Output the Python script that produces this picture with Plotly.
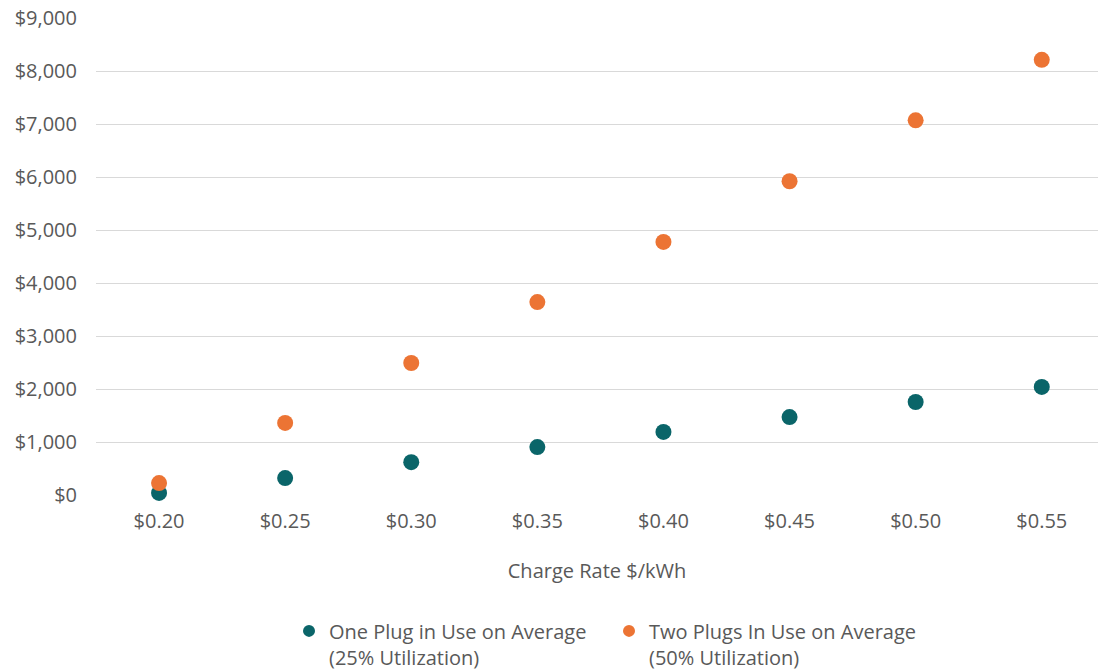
import plotly.graph_objects as go

# Charge rate categories ($/kWh)
rates = ["$0.20", "$0.25", "$0.30", "$0.35", "$0.40", "$0.45", "$0.50", "$0.55"]

# Annual revenue per charger ($)
one_plug = [40, 320, 620, 905, 1190, 1470, 1755, 2040]
two_plugs = [225, 1360, 2490, 3640, 4775, 5920, 7070, 8210]

y_ticks = [0, 1000, 2000, 3000, 4000, 5000, 6000, 7000, 8000, 9000]
y_labels = ["$0", "$1,000", "$2,000", "$3,000", "$4,000", "$5,000",
            "$6,000", "$7,000", "$8,000", "$9,000"]

TEAL = "#0A6569"
ORANGE = "#EC7434"
TEXT = "#595959"
FONT = "Open Sans"
SIZE = 20

x_pos = list(range(len(rates)))

fig = go.Figure()
fig.add_trace(go.Scatter(
    x=x_pos, y=one_plug, mode="markers",
    name="One Plug in Use on Average<br>(25% Utilization)",
    marker=dict(color=TEAL, size=16),
    cliponaxis=False,
))
fig.add_trace(go.Scatter(
    x=x_pos, y=two_plugs, mode="markers",
    name="Two Plugs In Use on Average<br>(50% Utilization)",
    marker=dict(color=ORANGE, size=16),
    cliponaxis=False,
))

fig.update_layout(
    width=1098, height=670,
    margin=dict(l=96, r=0, t=18, b=175),
    paper_bgcolor="white", plot_bgcolor="white",
    font=dict(family=FONT, size=SIZE, color=TEXT),
    xaxis=dict(
        tickmode="array", tickvals=x_pos, ticktext=rates,
        range=[-0.5, 7.446], showgrid=False, zeroline=False,
        showline=False, ticks="", ticklabelstandoff=12,
        title=dict(text="Charge Rate $/kWh", standoff=30,
                   font=dict(size=SIZE, color=TEXT)),
    ),
    yaxis=dict(
        tickmode="array", tickvals=y_ticks, ticktext=y_labels,
        range=[0, 9000], showgrid=True, gridcolor="#D9D9D9", gridwidth=1,
        zeroline=False, showline=False, ticks="", ticklabelstandoff=18,
        automargin=False,
    ),
    legend=dict(
        orientation="h", x=0.512, xanchor="center",
        yref="container", y=0.0875, yanchor="top",
        valign="top", font=dict(size=SIZE, color=TEXT),
        itemsizing="constant", itemwidth=30, traceorder="normal",
        entrywidth=275,
    ),
    showlegend=True,
)

fig.write_html("out.html")
